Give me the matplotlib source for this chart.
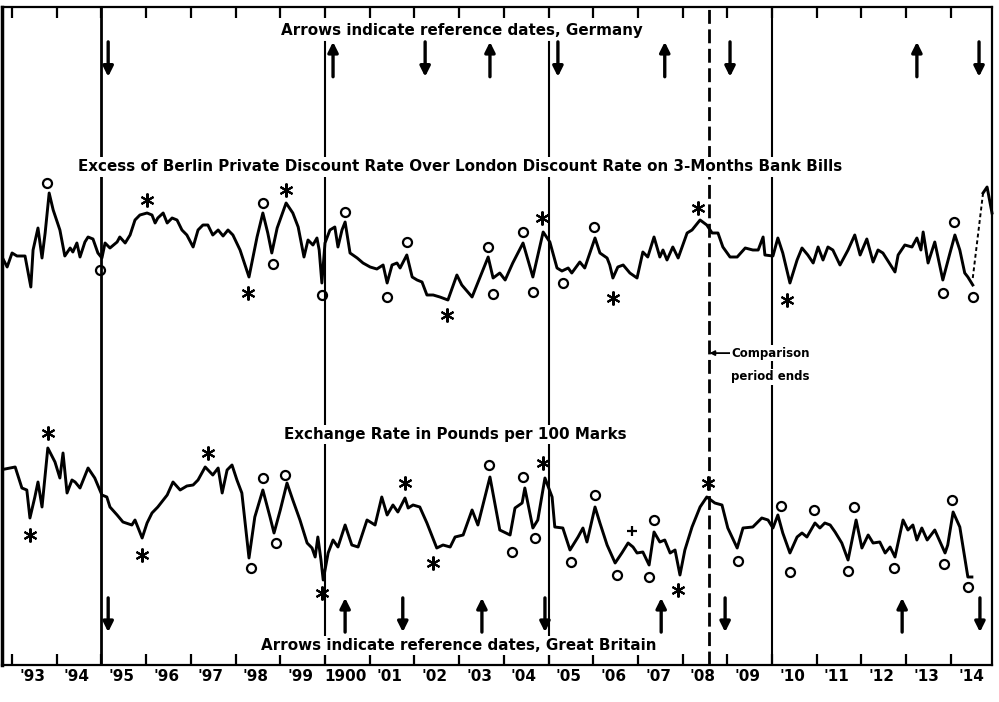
import matplotlib.pyplot as plt
from matplotlib import transforms

# Excess of Berlin private discount rate over London rate on 3-months bank bills
# (relative level; the original chart carries no vertical scale)
spread_dates = [1892.73, 1892.89, 1893.00, 1893.11, 1893.29, 1893.42, 1893.47, 1893.58, 1893.67, 1893.74,
                1893.83, 1893.92, 1894.07, 1894.18, 1894.30, 1894.36, 1894.45, 1894.52, 1894.63, 1894.70,
                1894.81, 1894.92, 1895.01, 1895.08, 1895.19, 1895.35, 1895.41, 1895.53, 1895.64, 1895.75,
                1895.86, 1896.02, 1896.13, 1896.20, 1896.26, 1896.38, 1896.47, 1896.58, 1896.69, 1896.80,
                1896.91, 1897.05, 1897.16, 1897.27, 1897.38, 1897.49, 1897.61, 1897.72, 1897.83, 1897.94,
                1898.10, 1898.30, 1898.48, 1898.61, 1898.72, 1898.81, 1898.93, 1899.13, 1899.28, 1899.40,
                1899.53, 1899.62, 1899.73, 1899.82, 1899.87, 1899.93, 1900.00, 1900.11, 1900.22, 1900.29,
                1900.38, 1900.45, 1900.56, 1900.72, 1900.85, 1901.01, 1901.16, 1901.30, 1901.39, 1901.50,
                1901.61, 1901.68, 1901.83, 1901.95, 1902.06, 1902.17, 1902.28, 1902.42, 1902.57, 1902.75,
                1902.95, 1903.06, 1903.29, 1903.47, 1903.65, 1903.76, 1903.91, 1904.03, 1904.20, 1904.43,
                1904.65, 1904.88, 1905.03, 1905.19, 1905.30, 1905.44, 1905.52, 1905.70, 1905.81, 1906.04,
                1906.15, 1906.31, 1906.37, 1906.44, 1906.55, 1906.67, 1906.82, 1906.98, 1907.11, 1907.22,
                1907.36, 1907.49, 1907.56, 1907.65, 1907.78, 1907.90, 1908.10, 1908.21, 1908.39, 1908.54,
                1908.66, 1908.79, 1908.90, 1909.06, 1909.22, 1909.40, 1909.57, 1909.69, 1909.80, 1909.84,
                1910.02, 1910.13, 1910.24, 1910.40, 1910.56, 1910.67, 1910.80, 1910.92, 1911.03, 1911.14,
                1911.25, 1911.36, 1911.52, 1911.70, 1911.85, 1911.97, 1912.12, 1912.26, 1912.37, 1912.48,
                1912.75, 1912.82, 1912.97, 1913.13, 1913.24, 1913.33, 1913.38, 1913.49, 1913.64, 1913.82,
                1913.98, 1914.09, 1914.20, 1914.31, 1914.38, 1914.49]
spread_vals = [77, 63, 77, 74, 74, 43, 80, 102, 72, 97,
               137, 120, 100, 74, 82, 78, 87, 73, 88, 93,
               91, 77, 72, 87, 82, 88, 93, 87, 95, 110,
               115, 117, 115, 107, 112, 117, 107, 112, 110, 100,
               95, 83, 100, 105, 105, 95, 100, 94, 100, 95,
               80, 53, 93, 117, 97, 77, 102, 127, 117, 103,
               73, 90, 85, 92, 80, 47, 87, 100, 103, 83,
               100, 108, 77, 72, 67, 63, 61, 65, 47, 65,
               67, 62, 75, 53, 50, 48, 35, 35, 33, 30,
               55, 45, 33, 53, 73, 52, 57, 50, 67, 87,
               53, 98, 88, 62, 59, 62, 57, 68, 62, 92,
               77, 72, 65, 52, 63, 65, 57, 52, 78, 73,
               93, 73, 80, 70, 83, 72, 97, 100, 110, 105,
               97, 97, 83, 73, 73, 82, 80, 80, 93, 75,
               74, 92, 77, 47, 70, 82, 75, 67, 83, 70,
               83, 80, 65, 80, 95, 75, 91, 68, 80, 77,
               58, 75, 85, 83, 92, 80, 98, 67, 88, 50,
               77, 95, 80, 57, 53, 45]
# last months: dotted bridge, then solid again
spread_gap_dates = [1914.49, 1914.72]
spread_gap_vals = [52, 137]
spread_end_dates = [1914.72, 1914.81, 1914.92]
spread_end_vals = [137, 143, 117]

spread_star_dates = [1896.02, 1898.28, 1899.13, 1902.73, 1904.85, 1906.44, 1908.34, 1910.33]
spread_star_vals = [130, 37, 140, 15, 112, 32, 122, 30]
spread_circle_dates = [1893.78, 1894.97, 1898.61, 1898.84, 1899.93, 1900.45, 1901.39, 1901.83, 1903.65,
                       1903.76, 1904.43, 1904.65, 1905.32, 1906.02, 1913.82, 1914.07, 1914.49]
spread_circle_vals = [147, 60, 127, 66, 35, 118, 33, 88, 83,
                      36, 98, 38, 47, 103, 37, 108, 33]

# Exchange rate in pounds per 100 marks (relative level)
fx_dates = [1892.73, 1893.07, 1893.22, 1893.33, 1893.40, 1893.51, 1893.58, 1893.67, 1893.80, 1893.96,
            1894.07, 1894.14, 1894.23, 1894.34, 1894.41, 1894.52, 1894.70, 1894.85, 1895.01, 1895.12,
            1895.19, 1895.35, 1895.48, 1895.68, 1895.75, 1895.91, 1896.02, 1896.13, 1896.26, 1896.47,
            1896.60, 1896.76, 1896.91, 1897.05, 1897.16, 1897.32, 1897.49, 1897.61, 1897.70, 1897.81,
            1897.92, 1898.03, 1898.14, 1898.30, 1898.43, 1898.61, 1898.77, 1898.86, 1899.00, 1899.15,
            1899.28, 1899.44, 1899.60, 1899.71, 1899.78, 1899.84, 1899.91, 1899.96, 1900.07, 1900.18,
            1900.29, 1900.45, 1900.60, 1900.74, 1900.94, 1901.12, 1901.27, 1901.39, 1901.52, 1901.63,
            1901.79, 1901.86, 1901.97, 1902.12, 1902.28, 1902.50, 1902.64, 1902.80, 1902.91, 1903.09,
            1903.29, 1903.42, 1903.69, 1903.87, 1903.91, 1904.14, 1904.25, 1904.41, 1904.47, 1904.65,
            1904.76, 1904.92, 1905.08, 1905.14, 1905.32, 1905.48, 1905.66, 1905.77, 1905.86, 1906.04,
            1906.15, 1906.31, 1906.49, 1906.64, 1906.78, 1906.89, 1906.98, 1907.11, 1907.25, 1907.36,
            1907.49, 1907.60, 1907.72, 1907.83, 1907.94, 1908.05, 1908.21, 1908.39, 1908.54, 1908.72,
            1908.88, 1909.01, 1909.22, 1909.35, 1909.57, 1909.77, 1909.91, 1910.02, 1910.13, 1910.24,
            1910.40, 1910.56, 1910.67, 1910.78, 1910.96, 1911.07, 1911.18, 1911.30, 1911.41, 1911.56,
            1911.70, 1911.88, 1912.01, 1912.15, 1912.26, 1912.41, 1912.53, 1912.64, 1912.75, 1912.93,
            1913.04, 1913.15, 1913.24, 1913.35, 1913.47, 1913.64, 1913.87, 1913.93, 1914.05, 1914.20,
            1914.38, 1914.47]
fx_vals = [130, 133, 112, 110, 82, 103, 118, 93, 152, 138,
           122, 147, 107, 120, 118, 112, 132, 122, 105, 103,
           93, 85, 78, 75, 80, 62, 77, 87, 93, 105,
           118, 110, 114, 115, 120, 133, 125, 132, 107, 130,
           135, 120, 107, 42, 83, 110, 83, 67, 90, 117,
           100, 80, 57, 52, 43, 63, 40, 20, 47, 60,
           53, 75, 55, 53, 80, 75, 103, 85, 95, 88,
           102, 92, 95, 93, 77, 52, 55, 53, 63, 65,
           90, 75, 123, 80, 70, 65, 92, 97, 112, 72,
           80, 122, 103, 73, 72, 50, 63, 72, 58, 93,
           77, 55, 37, 47, 57, 53, 47, 48, 35, 68,
           58, 60, 47, 50, 25, 50, 73, 93, 103, 97,
           95, 72, 52, 72, 73, 82, 80, 72, 85, 67,
           47, 63, 67, 63, 77, 72, 77, 75, 68, 57,
           40, 80, 52, 65, 57, 58, 47, 53, 43, 80,
           70, 75, 60, 72, 60, 70, 47, 55, 88, 73,
           23, 23]

fx_star_dates = [1893.40, 1893.80, 1895.91, 1897.38, 1899.93, 1901.79, 1902.42, 1904.88, 1907.90, 1908.57]
fx_star_vals = [65, 167, 45, 147, 7, 117, 37, 137, 10, 117]
fx_circle_dates = [1898.34, 1898.61, 1898.90, 1899.10, 1903.67, 1904.18, 1904.43, 1904.70, 1905.50,
                   1906.04, 1906.53, 1907.25, 1907.36, 1909.24, 1910.20, 1910.40, 1910.94, 1911.70,
                   1911.83, 1912.73, 1913.85, 1914.03, 1914.38]
fx_circle_vals = [32, 122, 57, 125, 135, 48, 123, 62, 38,
                  105, 25, 23, 80, 39, 94, 28, 90, 29,
                  93, 32, 36, 100, 13]
fx_plus_dates = [1906.87]
fx_plus_vals = [69]

# reference dates (arrow up = peak, arrow down = trough)
germany_peaks = [1900.18, 1903.69, 1907.60, 1913.24]
germany_troughs = [1895.15, 1902.24, 1905.21, 1909.06, 1914.63]
britain_peaks = [1900.45, 1903.51, 1907.52, 1912.91]
britain_troughs = [1895.15, 1901.74, 1904.92, 1908.95, 1914.65]

years = list(range(1892, 1915))
year_labels = ["'92", "'93", "'94", "'95", "'96", "'97", "'98", "'99", "1900", "'01", "'02", "'03",
               "'04", "'05", "'06", "'07", "'08", "'09", "'10", "'11", "'12", "'13", "'14"]

full_lines = [1895, 1910]
short_lines = [1900, 1905]   # these stop under the Germany caption
comparison_end = 1908.6

plt.rcParams['font.family'] = ['DejaVu Sans']

fig = plt.figure(figsize=(9.99, 7.02), dpi=100)
ax = fig.add_axes([2 / 999, 37 / 702, 990 / 999, 658 / 702])
ax.set_xlim(1892.775, 1914.92)
ax.set_ylim(-335, 323)
ax2 = ax.twinx()
ax2.set_ylim(-65, 593)

for s in ax.spines.values():
    s.set_linewidth(1.6)
ax.spines['left'].set_linewidth(2.5)
for s in ax2.spines.values():
    s.set_visible(False)

ax.set_xticks(years[1:])
ax.tick_params(axis='x', direction='in', length=8, width=1.6, top=True, bottom=True,
               labelbottom=False)
ax.set_yticks([])
ax2.set_yticks([])

trans = transforms.blended_transform_factory(ax.transData, ax.transAxes)
for yr, lab in zip(years, year_labels):
    ax.text(yr + 0.45, -0.018, lab, transform=trans, ha='center', va='center',
            fontsize=11, fontweight='bold', clip_on=False)

# vertical guide lines
for yr in full_lines:
    ax.axvline(yr, color='black', lw=2.0 if yr == 1895 else 1.5, zorder=1)
for yr in short_lines:
    ax.axvline(yr, ymax=0.947, color='black', lw=1.5, zorder=1)
ax.axvline(comparison_end, color='black', lw=2.0, ls=(0, (5, 2)), zorder=1)

# top series
ax.plot(spread_dates, spread_vals, color='black', lw=2.1, solid_joinstyle='round', zorder=3)
ax.plot(spread_gap_dates, spread_gap_vals, color='black', lw=1.4, ls=(0, (2, 1.5)), clip_on=False)
ax.plot(spread_end_dates, spread_end_vals, color='black', lw=2.1, clip_on=False)
ax.plot(spread_star_dates, spread_star_vals, ls='none', marker=(6, 2, 0), ms=10, mew=1.5, color='black')
ax.plot(spread_circle_dates, spread_circle_vals, ls='none', marker='o', ms=6.5, mew=1.6,
        mfc='none', mec='black')

# bottom series
ax2.plot(fx_dates, fx_vals, color='black', lw=2.1, solid_joinstyle='round', zorder=3)
ax2.plot(fx_star_dates, fx_star_vals, ls='none', marker=(6, 2, 0), ms=10, mew=1.5, color='black')
ax2.plot(fx_circle_dates, fx_circle_vals, ls='none', marker='o', ms=6.5, mew=1.6,
         mfc='none', mec='black')
ax2.plot(fx_plus_dates, fx_plus_vals, ls='none', marker='+', ms=7, mew=1.6, color='black')


def arrow(date, up, lo, hi):
    head, tail = (hi, lo) if up else (lo, hi)
    ax2.annotate('', xy=(date, head), xytext=(date, tail), xycoords=trans, textcoords=trans,
                 arrowprops=dict(arrowstyle='-|>', lw=2.4, color='black', mutation_scale=15,
                                 shrinkA=0, shrinkB=0))


for d in germany_peaks:
    arrow(d, True, 0.894, 0.947)
for d in germany_troughs:
    arrow(d, False, 0.894, 0.947)
for d in britain_peaks:
    arrow(d, True, 0.050, 0.102)
for d in britain_troughs:
    arrow(d, False, 0.050, 0.102)

box = dict(fc='white', ec='none', pad=1.5)
title_kw = dict(transform=ax2.transAxes, ha='center', va='center', fontsize=10.9,
                fontweight='bold', bbox=box, zorder=5)
ax2.text(0.465, 0.965, 'Arrows indicate reference dates, Germany', **title_kw)
ax2.text(0.463, 0.757,
         'Excess of Berlin Private Discount Rate Over London Discount Rate on 3-Months Bank Bills',
         **title_kw)
ax2.text(0.458, 0.35, 'Exchange Rate in Pounds per 100 Marks', **title_kw)
ax2.text(0.461, 0.030, 'Arrows indicate reference dates, Great Britain', **title_kw)

ax2.annotate('', xy=(comparison_end, 0.474), xytext=(1909.06, 0.474), xycoords=trans,
             textcoords=trans,
             arrowprops=dict(arrowstyle='-|>', lw=1.3, color='black', mutation_scale=7,
                             shrinkA=0, shrinkB=0))
note_kw = dict(transform=trans, ha='left', va='center', fontsize=8.5, fontweight='bold',
               bbox=dict(fc='white', ec='none', pad=1), zorder=5)
ax2.text(1909.08, 0.474, 'Comparison', **note_kw)
ax2.text(1909.08, 0.438, 'period ends', **note_kw)

fig.savefig('out.png', dpi=100)
